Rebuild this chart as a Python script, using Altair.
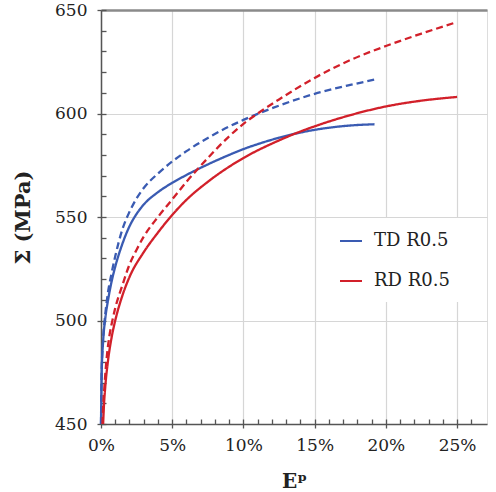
import altair as alt
import pandas as pd

# ---- data ----
td_solid_e = [0, 0.0005, 0.0015, 0.003, 0.005, 0.0075, 0.01, 0.015, 0.02, 0.025, 0.03, 0.04, 0.05,
              0.06, 0.075, 0.09, 0.10, 0.11, 0.125, 0.14, 0.15, 0.175, 0.192]
td_solid_s = [450, 475, 490, 501, 510, 519, 526, 537, 545.5, 551.5, 556, 562, 566.5,
              570.3, 575.4, 580, 582.8, 585.2, 588.3, 590.8, 592.1, 594.2, 594.8]

td_dash_e = [0, 0.0005, 0.0015, 0.003, 0.005, 0.0075, 0.01, 0.015, 0.02, 0.025, 0.03, 0.04, 0.05,
             0.06, 0.075, 0.09, 0.10, 0.11, 0.125, 0.15, 0.175, 0.193]
td_dash_s = [450, 476, 491, 503, 514, 523, 531, 544, 552.5, 559, 564, 571, 576.8,
             581.8, 588.2, 593.7, 596.9, 599.8, 603.8, 609.5, 613.8, 616.5]

rd_solid_e = [0.0015, 0.002, 0.003, 0.005, 0.0075, 0.01, 0.015, 0.02, 0.03, 0.04, 0.05, 0.06,
              0.075, 0.09, 0.10, 0.125, 0.14, 0.15, 0.175, 0.20, 0.225, 0.25]
rd_solid_s = [450, 458, 468, 481, 492, 500, 512, 521, 533, 542.5, 551, 558.3,
              567, 574.3, 578.5, 587, 591.3, 593.8, 599.2, 603.4, 606.2, 608]

rd_dash_e = [0.001, 0.0015, 0.0025, 0.004, 0.006, 0.008, 0.01, 0.015, 0.02, 0.025, 0.03, 0.04, 0.05,
             0.06, 0.075, 0.09, 0.10, 0.11, 0.125, 0.15, 0.175, 0.20, 0.225, 0.25]
rd_dash_s = [450, 458, 469, 482, 493, 500, 506, 517, 527, 534.2, 540.5, 550, 558.5,
             567, 578.5, 589, 595, 600, 606.8, 617.2, 625.8, 632.6, 638.6, 644.2]

series_names = ["TD R0.5", "RD R0.5"]
series_colors = ["#3a5bb2", "#d2202a"]

x_major = [0, 0.05, 0.10, 0.15, 0.20, 0.25]
x_minor = [i / 100 for i in range(0, 27)]
y_major = [450, 500, 550, 600, 650]
y_minor = list(range(450, 651, 10))

rows = []
for name, kind, es, ss in [
    ("TD R0.5", "solid", td_solid_e, td_solid_s),
    ("TD R0.5", "dashed", td_dash_e, td_dash_s),
    ("RD R0.5", "solid", rd_solid_e, rd_solid_s),
    ("RD R0.5", "dashed", rd_dash_e, rd_dash_s),
]:
    for i, (e, s) in enumerate(zip(es, ss)):
        rows.append({"series": name, "kind": kind, "curve": name + kind, "order": i, "e": e, "s": s})
df = pd.DataFrame(rows)

W, H = 386, 414
FONT = "DejaVu Serif"

xscale = alt.Scale(domain=[0, 0.271], nice=False, zero=False)
yscale = alt.Scale(domain=[450, 650], nice=False, zero=False)

base = alt.Chart(df)

lines = base.mark_line(strokeWidth=2.3, interpolate="monotone").encode(
    x=alt.X("e:Q", scale=xscale, axis=alt.Axis(
        orient="bottom", values=x_major, format=".0%", title="Eᵖ",
        grid=True, gridColor="#d6d6d6", gridWidth=1.2,
        domainColor="#555555", domainWidth=1.5,
        ticks=True, tickSize=4, tickColor="#555555", tickWidth=1.3,
        labelFlush=False, labelOverlap=False,
        labelPadding=9, labelFont=FONT, labelFontSize=17, labelColor="#222222",
        titleFont=FONT, titleFontSize=20, titleFontWeight="bold", titleColor="#222222",
        titlePadding=18)),
    y=alt.Y("s:Q", scale=yscale, axis=alt.Axis(
        orient="left", values=y_major, title="Σ (MPa)",
        grid=True, gridColor="#d6d6d6", gridWidth=1.2,
        domainColor="#555555", domainWidth=1.5,
        ticks=True, tickSize=4, tickColor="#555555", tickWidth=1.3,
        labelFlush=False, labelOverlap=False,
        labelPadding=10, labelFont=FONT, labelFontSize=17, labelColor="#222222",
        titleFont=FONT, titleFontSize=21, titleFontWeight="bold", titleColor="#222222",
        titlePadding=21)),
    color=alt.Color("series:N", scale=alt.Scale(domain=series_names, range=series_colors),
                    legend=alt.Legend(
                        title=None, orient="none", legendX=227, legendY=208,
                        symbolType="stroke", symbolSize=484, symbolStrokeWidth=2,
                        labelFont=FONT, labelFontSize=18, labelColor="#222222",
                        labelOffset=11, rowPadding=19, padding=11,
                        fillColor="white", strokeColor="white")),
    strokeDash=alt.StrokeDash("kind:N", scale=alt.Scale(domain=["solid", "dashed"],
                                                       range=[[1, 0], [7, 4]]), legend=None),
    detail="curve:N",
    order="order:Q",
)

minor = base.mark_point(opacity=0).encode(
    x=alt.X("e:Q", scale=xscale, axis=alt.Axis(
        orient="top", offset=-H, values=x_minor, labels=False, title=None,
        grid=False, domain=False, ticks=True, tickSize=5, tickColor="#555555", tickWidth=1.3)),
    y=alt.Y("s:Q", scale=yscale, axis=alt.Axis(
        orient="right", offset=-W, values=y_minor, labels=False, title=None,
        grid=False, domain=False, ticks=True, tickSize=5, tickColor="#555555", tickWidth=1.3)),
)

frame = base.mark_point(opacity=0).encode(
    x=alt.X("e:Q", scale=xscale, axis=alt.Axis(
        orient="top", labels=False, ticks=False, title=None, grid=False,
        domain=True, domainColor="#8a8a8a", domainWidth=2.5)),
    y=alt.Y("s:Q", scale=yscale, axis=None),
)

chart = alt.layer(lines, minor, frame).resolve_axis(
    x="independent", y="independent"
).properties(
    width=W, height=H,
    padding={"left": 101, "top": 10, "right": 9, "bottom": 68},
    autosize=alt.AutoSizeParams(type="none"),
).configure_view(stroke=None).configure(background="white")

chart.save("out.html", embed_options={"renderer": "svg", "actions": False})
